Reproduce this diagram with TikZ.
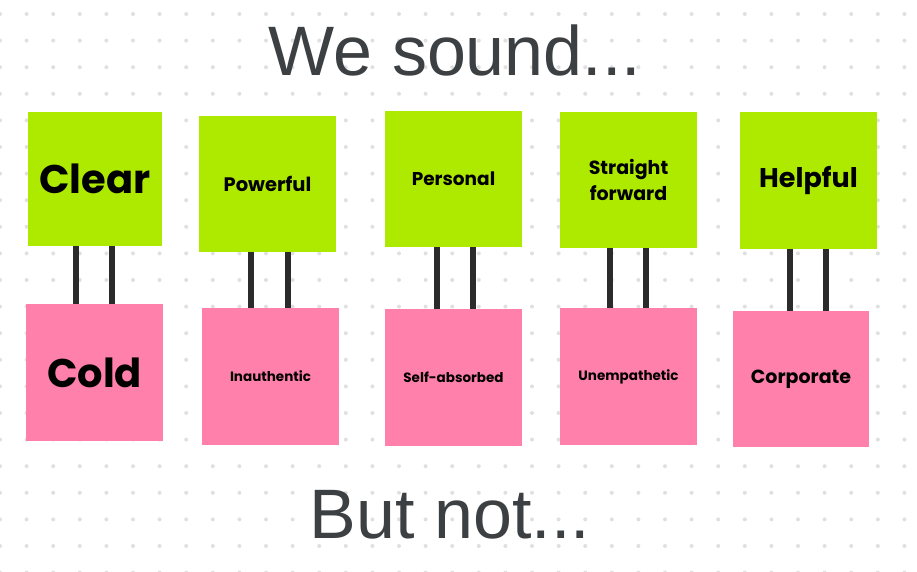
\documentclass[tikz,border=0pt]{standalone}
\usepackage{fontspec}
\setmainfont{Liberation Sans}
\newfontfamily\lab{Poppins}[BoldFont=* Bold]
\definecolor{grn}{HTML}{AEEA00}
\definecolor{pnk}{HTML}{FF80AB}
\definecolor{ttl}{HTML}{3D4043}
\definecolor{dotc}{HTML}{E0E0E0}
\definecolor{barc}{HTML}{2B2B2B}
\newcommand\fs[1]{\lab\bfseries\fontsize{#1}{#1}\selectfont}
\begin{document}
\begin{tikzpicture}[x=1pt,y=1pt,
  g/.style={fill=grn,minimum width=136pt,minimum height=136pt,inner sep=0pt,align=center},
  p/.style={fill=pnk,minimum width=137pt,minimum height=137pt,inner sep=0pt,align=center},
  bar/.style={draw=barc,line width=6.5pt},
  ttl/.style={text=ttl,font=\fontsize{70}{80}\selectfont}]
\useasboundingbox (0,0) rectangle (917,572);
\fill[white] (0,0) rectangle (917,572);
\foreach \i in {0,...,34}{\foreach \j in {0,...,21}{
  \fill[dotc] (\i*26.6,558-\j*26.6) circle (2pt);}}
\node[ttl] (t1) at (455,522) {We sound...};
\node[ttl] (t2) at (450,57) {But not...};
\node[g,minimum width=134pt,minimum height=134pt,font=\fs{40}] (g1) at (95,393) {Clear};
\node[g,minimum height=136pt,minimum width=137pt,font=\fs{19.5}] (g2) at (267.5,388) {Powerful};
\node[g,minimum width=137pt,font=\fs{18.5}] (g3) at (453.5,393) {Personal};
\node[g,minimum width=137pt,font=\fs{19}] (g4) at (628.5,392) {Straight\\[4pt]forward};
\node[g,minimum width=137pt,minimum height=137pt,font=\fs{27}] (g5) at (808.5,391.5) {Helpful};
\node[p,font=\fs{40}] (p1) at (94.5,199.5) {Cold};
\node[p,font=\fs{13.5}] (p2) at (270.5,195.5) {Inauthentic};
\node[p,font=\fs{13.5}] (p3) at (453.5,194.5) {Self-absorbed};
\node[p,font=\fs{13.5}] (p4) at (628.5,195.5) {Unempathetic};
\node[p,minimum width=136pt,minimum height=136pt,font=\fs{19}] (p5) at (801,193) {Corporate};
\foreach \n/\a/\b in {1/-19/17,2/-16.5/20.5,3/-16.5/19.5,4/-18.5/17.5,5/-18.5/17.5}{
  \draw[bar] ([xshift=\a pt]g\n.south) -- ([xshift=\a pt]g\n.south |- p\n.north);
  \draw[bar] ([xshift=\b pt]g\n.south) -- ([xshift=\b pt]g\n.south |- p\n.north);}
\end{tikzpicture}
\end{document}
